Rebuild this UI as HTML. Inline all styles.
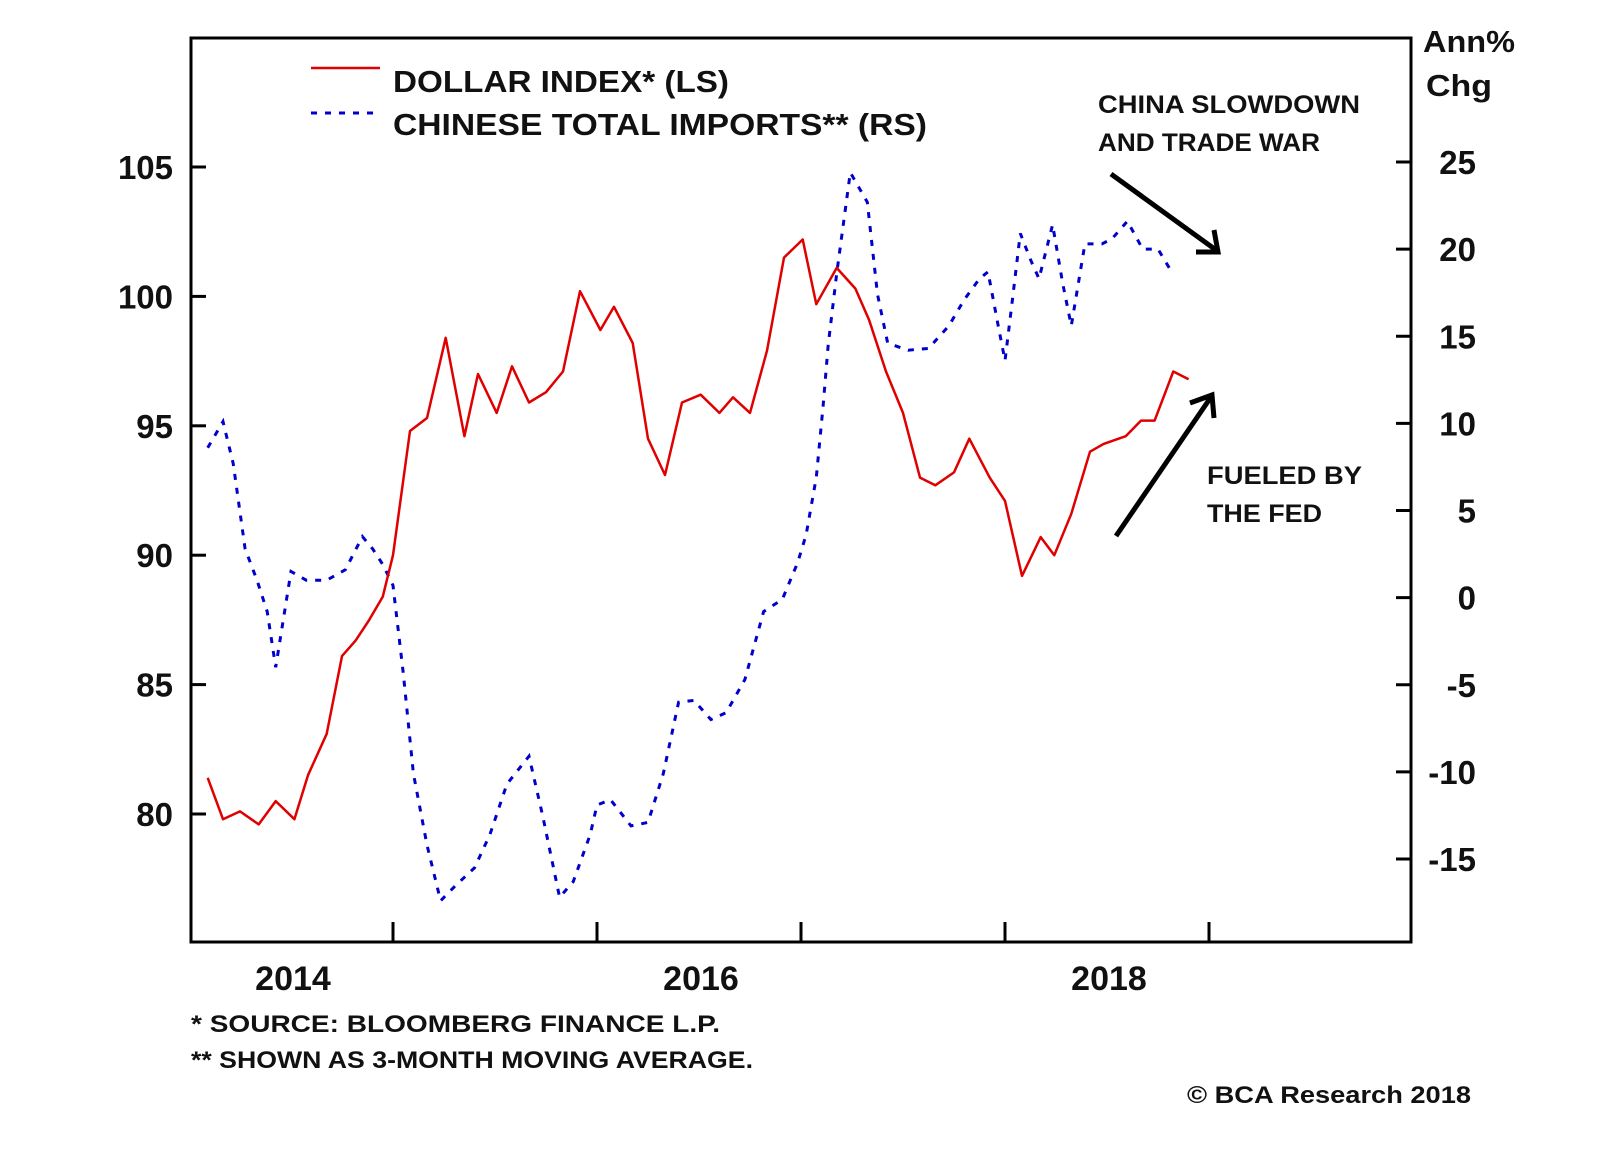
<!DOCTYPE html>
<html><head><meta charset="utf-8"><style>
html,body{margin:0;padding:0;background:#fff;}
svg{display:block;}
text{font-family:"Liberation Sans",sans-serif;font-weight:bold;fill:#111;}
</style></head><body>
<svg id="chart" width="1600" height="1152" viewBox="0 0 1600 1152">
<rect x="0" y="0" width="1600" height="1152" fill="#fff"/>
<g id="plot"></g>
<g id="axes"></g>
<g>
 <line x1="311" y1="68" x2="380" y2="68" stroke="#e00000" stroke-width="2.5"/>
 <text x="393" y="92" font-size="31" textLength="336" lengthAdjust="spacingAndGlyphs">DOLLAR INDEX* (LS)</text>
 <line x1="311" y1="113" x2="380" y2="113" stroke="#0000cc" stroke-width="3" stroke-dasharray="6,8"/>
 <text x="393" y="135" font-size="31" textLength="534" lengthAdjust="spacingAndGlyphs">CHINESE TOTAL IMPORTS** (RS)</text>
</g>
<text x="1423" y="52" font-size="31" textLength="92" lengthAdjust="spacingAndGlyphs">Ann%</text>
<text x="1426" y="96" font-size="31" textLength="66" lengthAdjust="spacingAndGlyphs">Chg</text>
<g>
 <text x="1098" y="113" font-size="25" textLength="262" lengthAdjust="spacingAndGlyphs">CHINA SLOWDOWN</text>
 <text x="1098" y="151" font-size="25" textLength="222" lengthAdjust="spacingAndGlyphs">AND TRADE WAR</text>
 <line x1="1111" y1="174" x2="1216" y2="250" stroke="#000" stroke-width="5"/>
 <polyline points="1196,252 1218,252 1214,230" fill="none" stroke="#000" stroke-width="5"/>
</g>
<g>
 <text x="1207" y="484" font-size="25" textLength="155" lengthAdjust="spacingAndGlyphs">FUELED BY</text>
 <text x="1207" y="522" font-size="25" textLength="115" lengthAdjust="spacingAndGlyphs">THE FED</text>
 <line x1="1116" y1="536" x2="1211" y2="397" stroke="#000" stroke-width="5"/>
 <polyline points="1190,403 1212,395 1214,418" fill="none" stroke="#000" stroke-width="5"/>
</g>
<text x="191" y="1032" font-size="24" textLength="529" lengthAdjust="spacingAndGlyphs">*  SOURCE: BLOOMBERG FINANCE L.P.</text>
<text x="191" y="1068" font-size="24" textLength="562" lengthAdjust="spacingAndGlyphs">** SHOWN AS 3-MONTH MOVING AVERAGE.</text>
<text x="1187" y="1103" font-size="24" textLength="284" lengthAdjust="spacingAndGlyphs">© BCA Research 2018</text>
</svg>
<script>
const dollarMonths=[1.1,2.0,3.0,4.1,5.1,6.2,7.0,8.1,9.0,9.8,10.6,11.4,12.0,13.0,14.0,15.1,16.2,17.0,18.1,19.0,20.0,21.0,22.0,23.0,24.2,25.0,26.1,27.0,28.0,29.0,30.1,31.2,32.0,33.0,34.0,35.0,36.1,36.9,38.1,39.2,40.0,41.0,42.0,43.0,43.9,45.0,45.9,47.1,48.0,49.0,50.1,50.9,51.9,53.0,53.8,55.1,56.0,56.8,57.9,58.8];
const dollarValues=[81.4,79.8,80.1,79.6,80.5,79.8,81.5,83.1,86.1,86.7,87.5,88.4,90.0,94.8,95.3,98.4,94.6,97.0,95.5,97.3,95.9,96.3,97.1,100.2,98.7,99.6,98.2,94.5,93.1,95.9,96.2,95.5,96.1,95.5,97.9,101.5,102.2,99.7,101.1,100.3,99.1,97.1,95.5,93.0,92.7,93.2,94.5,93.0,92.1,89.2,90.7,90.0,91.6,94.0,94.3,94.6,95.2,95.2,97.1,96.8];
const importMonths=[1.1,2.0,2.6,3.3,4.0,4.6,5.1,6.0,6.9,8.1,9.2,10.2,10.8,11.4,12.0,12.6,13.2,14.0,14.8,15.6,16.8,17.7,18.7,20.0,20.8,21.8,22.6,23.6,24.0,24.8,26.0,27.0,27.9,28.8,29.7,30.7,31.6,32.7,33.8,34.9,35.8,36.3,36.9,37.3,37.6,38.1,38.9,39.9,40.5,41.1,42.3,43.5,44.7,45.6,46.5,47.0,47.6,48.0,48.4,48.9,49.5,50.0,50.8,51.4,51.9,52.7,53.7,54.3,55.2,56.1,57.0,57.8];
const importValues=[8.6,10.1,7.7,2.8,1.0,-0.8,-4.0,1.5,1.0,1.0,1.6,3.5,2.8,1.9,0.7,-4.3,-10.1,-14.2,-17.4,-16.6,-15.5,-13.6,-10.7,-9.1,-12.5,-17.2,-16.3,-13.6,-11.9,-11.6,-13.1,-12.9,-10.1,-6.0,-5.9,-7.0,-6.6,-4.7,-0.8,-0.1,2.0,3.6,6.9,11.0,14.5,18.6,24.4,22.7,17.4,14.6,14.2,14.3,15.6,17.1,18.3,18.7,15.6,13.6,16.8,20.9,19.4,18.3,21.4,18.0,15.6,20.3,20.3,20.6,21.6,20.0,20.0,18.7];
const leftTicks=[80,85,90,95,100,105];
const rightTicks=[-15,-10,-5,0,5,10,15,20,25];
const yearTickMonths=[12,24,36,48,60];
const yearLabels=["2014","2016","2018"];
const yearLabelMonths=[6,30,54];

const X0=191,X1=1411,Y0=38,Y1=942;
function xS(m){return 189+17*m;}
function yL(v){return 167+(105-v)*25.88;}
function yR(v){return 162+(25-v)*17.425;}
const NS="http://www.w3.org/2000/svg";
const plot=document.getElementById('plot'),axes=document.getElementById('axes');
function mk(tag,attrs,parent){const e=document.createElementNS(NS,tag);for(const k in attrs)e.setAttribute(k,attrs[k]);parent.appendChild(e);return e;}

let d=dollarMonths.map((m,i)=>(i?'L':'M')+xS(m).toFixed(1)+','+yL(dollarValues[i]).toFixed(1)).join(' ');
const imp=importMonths.map((m,i)=>(i?'L':'M')+xS(m).toFixed(1)+','+yR(importValues[i]).toFixed(1)).join(' ');
const pi=mk('path',{d:imp,fill:'none',stroke:'#0000cc','stroke-width':3,'stroke-dasharray':'6,8'},plot);


const pd=mk('path',{d:d,fill:'none',stroke:'#e00000','stroke-width':2.5,'stroke-linejoin':'round'},plot);



const frame=mk('rect',{x:X0,y:Y0,width:X1-X0,height:Y1-Y0,fill:'none',stroke:'#000','stroke-width':3},axes);


leftTicks.forEach(v=>{
 const y=yL(v);
 const t=mk('line',{x1:X0,y1:y,x2:X0+15,y2:y,stroke:'#000','stroke-width':3},axes);
 
 
 const l=mk('text',{x:173,y:y+12,'font-size':33,'text-anchor':'end'},axes);
 l.textContent=v;
 
 
});
rightTicks.forEach(v=>{
 const y=yR(v);
 const t=mk('line',{x1:X1-15,y1:y,x2:X1,y2:y,stroke:'#000','stroke-width':3},axes);
 
 
 const l=mk('text',{x:1476,y:y+12,'font-size':33,'text-anchor':'end'},axes);
 l.textContent=v;
 
 
});
yearTickMonths.forEach(m=>{
 const x=xS(m);
 const t=mk('line',{x1:x,y1:Y1,x2:x,y2:Y1-20,stroke:'#000','stroke-width':3},axes);
 
 
});
yearLabels.forEach((s,i)=>{
 const l=mk('text',{x:xS(yearLabelMonths[i])+2,y:990,'font-size':34,'text-anchor':'middle'},axes);
 l.textContent=s;
 
 
});
</script>
</body></html>
